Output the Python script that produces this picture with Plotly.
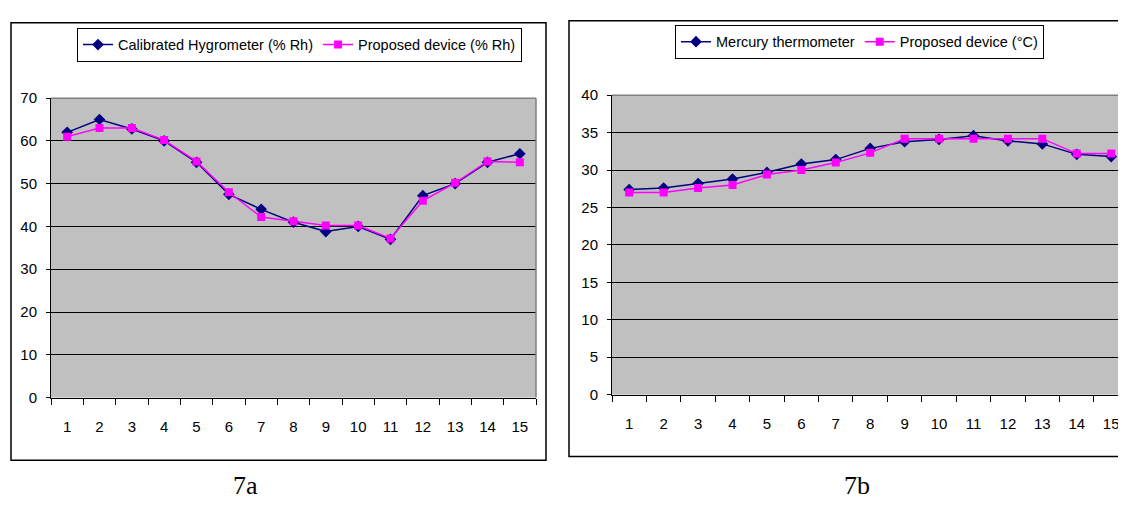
import plotly.graph_objects as go

categories = [str(i) for i in range(1, 16)]
hyg_calibrated = [62, 65, 62.8, 60, 55, 47.5, 44, 41, 38.8, 40, 37, 47.2, 50, 55, 57]
hyg_proposed = [61, 63, 63, 60.2, 55.2, 48, 42.2, 41.2, 40.2, 40.2, 37.2, 46, 50.2, 55.2, 55]
temp_mercury = [27.4, 27.6, 28.2, 28.8, 29.7, 30.8, 31.4, 32.9, 33.8, 34.1, 34.6, 33.9, 33.5, 32.1, 31.8]
temp_proposed = [27, 27, 27.6, 28, 29.4, 30, 31, 32.3, 34.2, 34.2, 34.2, 34.2, 34.2, 32.2, 32.2]

# page body has an 8px margin, so the figure is shifted by 8px
OFF = 8
W, H = 1126 - OFF, 506 - OFF
NAVY = "#000080"
MAG = "#FF00FF"
FONT = "Liberation Sans Narrow, Arial Narrow, Liberation Sans, Arial"

def px(x):
    return (x - OFF) / W

def py(y):
    return 1 - (y - OFF) / H

fig = go.Figure()
fig.add_trace(go.Scatter(x=categories, y=hyg_calibrated, name="Calibrated Hygrometer (% Rh)",
                         mode="lines+markers", line=dict(color=NAVY, width=1.5),
                         marker=dict(symbol="diamond", size=9, color=NAVY),
                         xaxis="x", yaxis="y", legend="legend"))
fig.add_trace(go.Scatter(x=categories, y=hyg_proposed, name="Proposed device (% Rh)",
                         mode="lines+markers", line=dict(color=MAG, width=1.5),
                         marker=dict(symbol="square", size=8, color=MAG),
                         xaxis="x", yaxis="y", legend="legend"))
fig.add_trace(go.Scatter(x=categories, y=temp_mercury, name="Mercury thermometer",
                         mode="lines+markers", line=dict(color=NAVY, width=1.5),
                         marker=dict(symbol="diamond", size=9, color=NAVY),
                         xaxis="x2", yaxis="y2", legend="legend2"))
fig.add_trace(go.Scatter(x=categories, y=temp_proposed, name="Proposed device (°C)",
                         mode="lines+markers", line=dict(color=MAG, width=1.5),
                         marker=dict(symbol="square", size=8, color=MAG),
                         xaxis="x2", yaxis="y2", legend="legend2"))

xcommon = dict(type="category", tickson="boundaries", ticks="outside", ticklen=6,
               tickcolor="black", showline=True, linecolor="black", linewidth=1,
               showgrid=False, zeroline=False, ticklabelstandoff=15,
               tickfont=dict(family=FONT, size=15, color="black"), fixedrange=True)
ycommon = dict(ticks="outside", ticklen=4, tickcolor="black", showline=True,
               linecolor="black", linewidth=1, showgrid=True, gridcolor="black",
               gridwidth=1, zeroline=False, ticklabelstandoff=6,
               tickfont=dict(family=FONT, size=15, color="black"), fixedrange=True)

leg = dict(xanchor="left", yanchor="top", orientation="h",
           bgcolor="white", bordercolor="black", borderwidth=1,
           font=dict(family=FONT, size=14.5, color="black"), itemwidth=30,
           tracegroupgap=0)

fig.update_layout(
    width=W, height=H,
    margin=dict(l=0, r=0, t=0, b=0),
    paper_bgcolor="white",
    plot_bgcolor="#C0C0C0",
    xaxis=dict(domain=[px(51), px(536)], range=[-0.5, 14.5], anchor="y", **xcommon),
    yaxis=dict(domain=[py(402), py(92)], range=[0, 70], dtick=10, anchor="x", **ycommon),
    xaxis2=dict(domain=[px(612), 1.0], range=[-0.5, 14.43], anchor="y2", **xcommon),
    yaxis2=dict(domain=[py(399), py(89)], range=[0, 40], dtick=5, anchor="x2", **ycommon),
    legend=dict(x=px(77), y=py(19), **leg),
    legend2=dict(x=px(675), y=py(16), **leg),
    shapes=[
        dict(type="rect", xref="paper", yref="paper", x0=px(11), x1=px(546),
             y0=py(467), y1=py(14), line=dict(color="black", width=1.5)),
        dict(type="rect", xref="paper", yref="paper", x0=px(569), x1=px(1140),
             y0=py(463), y1=py(12), line=dict(color="black", width=1.5)),
        dict(type="line", xref="paper", yref="paper", x0=px(51), x1=px(536),
             y0=py(92), y1=py(92), line=dict(color="#808080", width=1.5)),
        dict(type="line", xref="paper", yref="paper", x0=px(536), x1=px(536),
             y0=py(402), y1=py(92), line=dict(color="#808080", width=1.5)),
        dict(type="line", xref="paper", yref="paper", x0=px(612), x1=1.0,
             y0=py(89), y1=py(89), line=dict(color="#808080", width=1.5)),
    ],
    annotations=[
        dict(text="7a", x=px(245), y=py(493), xref="paper", yref="paper",
             xanchor="center", yanchor="middle", showarrow=False,
             font=dict(family="Liberation Serif, Times New Roman", size=26, color="black")),
        dict(text="7b", x=px(857), y=py(493), xref="paper", yref="paper",
             xanchor="center", yanchor="middle", showarrow=False,
             font=dict(family="Liberation Serif, Times New Roman", size=26, color="black")),
    ],
    showlegend=True,
)

fig.write_html("out.html")
